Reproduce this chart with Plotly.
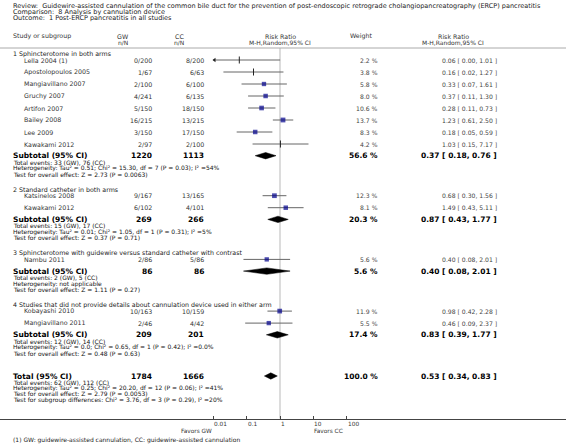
import plotly.graph_objects as go
import math

# ---------------- data ----------------
title_lines = [
    "Review:  Guidewire-assisted cannulation of the common bile duct for the prevention of post-endoscopic retrograde cholangiopancreatography (ERCP) pancreatitis",
    "Comparison:  8 Analysis by cannulation device",
    "Outcome:  1 Post-ERCP pancreatitis in all studies",
]

group_names = [
    "1 Sphincterotome in both arms",
    "2 Standard catheter in both arms",
    "3 Sphincterotome with guidewire versus standard catheter with contrast",
    "4 Studies that did not provide details about cannulation device used in either arm",
]

study_names = [
    ["Lella 2004 (1)", "Apostolopoulos 2005", "Mangiavillano 2007", "Gruchy 2007",
     "Artifon 2007", "Bailey 2008", "Lee 2009", "Kawakami 2012"],
    ["Katsinelos 2008", "Kawakami 2012"],
    ["Nambu 2011"],
    ["Kobayashi 2010", "Mangiavillano 2011"],
]
gw_nN = [
    ["0/200", "1/67", "2/100", "4/241", "5/150", "16/215", "3/150", "2/97"],
    ["9/167", "6/102"],
    ["2/86"],
    ["10/163", "2/46"],
]
cc_nN = [
    ["8/200", "6/63", "6/100", "6/135", "18/150", "13/215", "17/150", "2/100"],
    ["13/165", "4/101"],
    ["5/86"],
    ["10/159", "4/42"],
]
study_weight = [
    [2.2, 3.8, 5.8, 8.0, 10.6, 13.7, 8.3, 4.2],
    [12.3, 8.1],
    [5.6],
    [11.9, 5.5],
]
study_rr = [
    [0.06, 0.16, 0.33, 0.37, 0.28, 1.23, 0.18, 1.03],
    [0.68, 1.49],
    [0.40],
    [0.98, 0.46],
]
study_lo = [
    [0.0035, 0.02, 0.07, 0.11, 0.11, 0.61, 0.05, 0.15],
    [0.30, 0.43],
    [0.08],
    [0.42, 0.09],
]
study_hi = [
    [1.01, 1.27, 1.61, 1.30, 0.73, 2.50, 0.59, 7.17],
    [1.56, 5.11],
    [2.01],
    [2.28, 2.37],
]

sub_gw_n = [1220, 269, 86, 209]
sub_cc_n = [1113, 266, 86, 201]
sub_weight = [56.6, 20.3, 5.6, 17.4]
sub_rr = [0.37, 0.87, 0.40, 0.83]
sub_lo = [0.18, 0.43, 0.08, 0.39]
sub_hi = [0.76, 1.77, 2.01, 1.77]
sub_notes = [
    ["Total events: 33 (GW), 76 (CC)",
     "Heterogeneity: Tau² = 0.51; Chi² = 15.30, df = 7 (P = 0.03); I² =54%",
     "Test for overall effect: Z = 2.73 (P = 0.0063)"],
    ["Total events: 15 (GW), 17 (CC)",
     "Heterogeneity: Tau² = 0.01; Chi² = 1.05, df = 1 (P = 0.31); I² =5%",
     "Test for overall effect: Z = 0.37 (P = 0.71)"],
    ["Total events: 2 (GW), 5 (CC)",
     "Heterogeneity: not applicable",
     "Test for overall effect: Z = 1.11 (P = 0.27)"],
    ["Total events: 12 (GW), 14 (CC)",
     "Heterogeneity: Tau² = 0.0; Chi² = 0.65, df = 1 (P = 0.42); I² =0.0%",
     "Test for overall effect: Z = 0.48 (P = 0.63)"],
]

total_gw_n = 1784
total_cc_n = 1666
total_weight = 100.0
total_rr = 0.53
total_lo = 0.34
total_hi = 0.83
total_notes = [
    "Total events: 62 (GW), 112 (CC)",
    "Heterogeneity: Tau² = 0.25; Chi² = 20.20, df = 12 (P = 0.06); I² =41%",
    "Test for overall effect: Z = 2.79 (P = 0.0053)",
    "Test for subgroup differences: Chi² = 3.76, df = 3 (P = 0.29), I² =20%",
]

tick_values = [0.01, 0.1, 1, 10, 100]
tick_labels = ["0.01", "0.1", "1", "10", "100"]
favors_left = "Favors GW"
favors_right = "Favors CC"
footnote = "(1) GW: guidewire-assisted cannulation, CC: guidewire-assisted cannulation"

# ---------------- layout geometry ----------------
W, H = 566, 447
FONT = "DejaVu Sans"
X_AXIS_Y = 418.5
X_MIN, X_MAX = 0.01, 100
PX_ONE = 280.0
PX_DEC = 33.3
x_range = [-(PX_ONE / PX_DEC), (W - PX_ONE) / PX_DEC]

X_LEFT = 12
X_STUDY = 23
X_GW = 153
X_CC = 205
X_W = 379
X_CI = 498

def px(v):
    return v / W

def fmt_ci(r, lo, hi):
    return f"{r:.2f} [ {lo:.2f}, {hi:.2f} ]"

annotations = []
def txt(x, y, s, size=6.3, anchor="left", color="#333", bold=False, xref="paper"):
    if bold:
        s = f"<b>{s}</b>"
    xv = px(x) if xref == "paper" else math.log10(x)
    annotations.append(dict(x=xv, y=y, xref=xref, yref="y", borderpad=0,
                            text=s, showarrow=False, xanchor=anchor, yanchor="middle",
                            font=dict(family=FONT, size=size, color=color)))

# title
for i, t in enumerate(title_lines):
    txt(X_LEFT, 5.5 + 6 * i, t, size=6.5, color="#222")

# header
txt(X_LEFT, 36, "Study or subgroup", size=6.3, color="#333")
txt(123, 36, "GW", anchor="center")
txt(123, 42, "n/N", anchor="center", size=6)
txt(179, 36, "CC", anchor="center")
txt(179, 42, "n/N", anchor="center", size=6)
txt(280, 36, "Risk Ratio", anchor="center")
txt(280, 42, "M-H,Random,95% CI", anchor="center", size=6)
txt(361, 36, "Weight", anchor="center")
txt(453, 36, "Risk Ratio", anchor="center")
txt(453, 42, "M-H,Random,95% CI", anchor="center", size=6)

sq_x, sq_y, sq_s = [], [], []
tk_x, tk_y = [], []
ln_x, ln_y = [], []
ar_x, ar_y = [], []
dm_x, dm_y = [], []

def diamond(r, lo, hi, y, h=3.2):
    dm_x.extend([lo, r, hi, r, lo, None])
    dm_y.extend([y, y - h, y, y + h, y, None])

y = 53.5
for g in range(len(group_names)):
    txt(X_LEFT, y, group_names[g], size=6.3, color="#222")
    ys = [y + 6.5 + 12 * i for i in range(len(study_names[g]))]
    for i, yy in enumerate(ys):
        txt(X_STUDY, yy, study_names[g][i])
        txt(X_GW, yy, gw_nN[g][i], anchor="right")
        txt(X_CC, yy, cc_nN[g][i], anchor="right")
        txt(X_W, yy, f"{study_weight[g][i]:.1f} %", anchor="right", size=6.1, color="#444")
        txt(X_CI, yy, fmt_ci(study_rr[g][i], study_lo[g][i], study_hi[g][i]),
            anchor="right", size=6.1, color="#444")
        lo, hi, r = study_lo[g][i], study_hi[g][i], study_rr[g][i]
        ln_x.extend([max(lo, X_MIN), min(hi, X_MAX), None])
        ln_y.extend([yy, yy, None])
        if lo < X_MIN:
            ar_x.append(X_MIN * 1.08)
            ar_y.append(yy)
        if study_weight[g][i] < 5:
            tk_x.append(r); tk_y.append(yy)
        else:
            sq_x.append(r); sq_y.append(yy); sq_s.append(4.0 + 0.06 * study_weight[g][i])
    sy = ys[-1] + 11.7
    txt(X_LEFT, sy, "Subtotal (95% CI)", size=7.5, color="#000", bold=True)
    txt(X_GW, sy, str(sub_gw_n[g]), anchor="right", size=7.5, color="#000", bold=True)
    txt(X_CC, sy, str(sub_cc_n[g]), anchor="right", size=7.5, color="#000", bold=True)
    txt(X_W, sy, f"{sub_weight[g]:.1f} %", anchor="right", size=7.5, color="#000", bold=True)
    txt(X_CI, sy, fmt_ci(sub_rr[g], sub_lo[g], sub_hi[g]), anchor="right", size=7.5,
        color="#000", bold=True)
    diamond(sub_rr[g], sub_lo[g], sub_hi[g], sy)
    ny = sy + 6.5
    for k, note in enumerate(sub_notes[g]):
        txt(X_LEFT, ny + 6 * k, note, size=6, color="#111")
    y = ny + 6 * (len(sub_notes[g]) - 1) + 15

ty = y - 15 + 22.7
txt(X_LEFT, ty, "Total (95% CI)", size=7.5, color="#000", bold=True)
txt(X_GW, ty, str(total_gw_n), anchor="right", size=7.5, color="#000", bold=True)
txt(X_CC, ty, str(total_cc_n), anchor="right", size=7.5, color="#000", bold=True)
txt(X_W, ty, f"{total_weight:.1f} %", anchor="right", size=7.5, color="#000", bold=True)
txt(X_CI, ty, fmt_ci(total_rr, total_lo, total_hi), anchor="right", size=7.5,
    color="#000", bold=True)
diamond(total_rr, total_lo, total_hi, ty)
for k, note in enumerate(total_notes):
    txt(X_LEFT, ty + 6.3 + 5.8 * k, note, size=6, color="#111")

# axis labels
for v, lab in zip(tick_values, tick_labels):
    txt(v, 424, lab, size=5.8, anchor="left", color="#333", xref="x")
txt(X_MIN, 430.5, favors_left, size=5.8, anchor="right", color="#333", xref="x")
txt(10, 430.5, favors_right, size=5.8, anchor="left", color="#333", xref="x")
txt(X_LEFT, 440, footnote, size=6, color="#222")

fig = go.Figure()
# reference line at RR=1
fig.add_trace(go.Scatter(x=[1, 1], y=[48, X_AXIS_Y], mode="lines",
                         line=dict(color="#dcdcdc", width=2), hoverinfo="skip"))
fig.add_trace(go.Scatter(x=ln_x, y=ln_y, mode="lines",
                         line=dict(color="#666", width=1), hoverinfo="skip"))
fig.add_trace(go.Scatter(x=ar_x, y=ar_y, mode="markers",
                         marker=dict(symbol="triangle-left", size=4, color="#222"), hoverinfo="skip"))
fig.add_trace(go.Scatter(x=tk_x, y=tk_y, mode="markers",
                         marker=dict(symbol="line-ns", size=5, line=dict(color="#222", width=1)),
                         hoverinfo="skip"))
fig.add_trace(go.Scatter(x=sq_x, y=sq_y, mode="markers",
                         marker=dict(symbol="square", size=sq_s, color="#00008b",
                                     line=dict(width=0)), hoverinfo="skip"))
fig.add_trace(go.Scatter(x=dm_x, y=dm_y, mode="lines", fill="toself", fillcolor="#000",
                         line=dict(color="#000", width=0.5), hoverinfo="skip"))

fig.update_layout(
    width=W, height=H, margin=dict(l=0, r=0, t=0, b=0),
    paper_bgcolor="white", plot_bgcolor="white", showlegend=False,
    annotations=annotations,
    shapes=[dict(type="line", xref="paper", yref="y", x0=0, x1=1, y0=48, y1=48,
                 line=dict(color="#aaa", width=1))],
    xaxis=dict(type="log", range=x_range, domain=[0, 1], anchor="free",
               position=(H - X_AXIS_Y) / H, showline=True, linecolor="#444", linewidth=1,
               ticks="inside", ticklen=3, tickcolor="#444", tickvals=tick_values,
               showticklabels=False, showgrid=False, zeroline=False, fixedrange=True),
    yaxis=dict(range=[H, 0], domain=[0, 1], visible=False, showgrid=False,
               zeroline=False, fixedrange=True),
)

fig.write_html("out.html", config={"displayModeBar": False},
               post_script="document.body.style.margin='0';document.body.style.overflow='hidden';")
